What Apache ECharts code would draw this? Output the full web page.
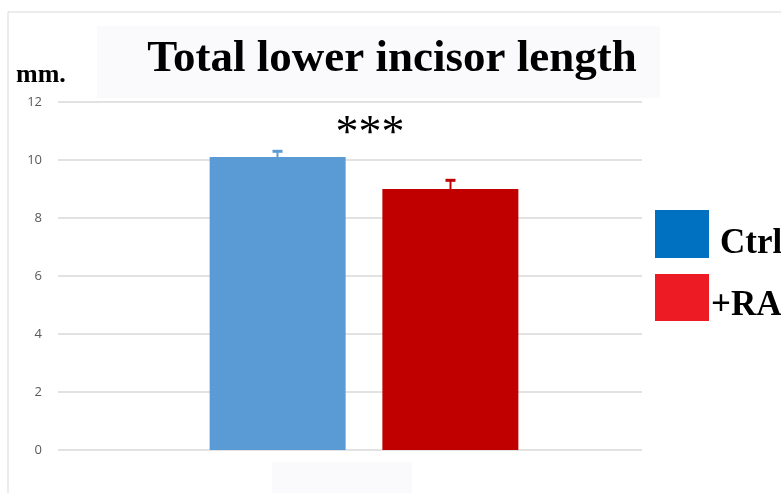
<!DOCTYPE html>
<html><head><meta charset="utf-8">
<script src="https://cdn.jsdelivr.net/npm/echarts@6/dist/echarts.min.js"></script>
<style>html,body{margin:0;padding:0;background:#fff}#c{width:781px;height:493px}</style>
</head><body><div id="c"></div>
<script>
const categories = [''];
const seriesNames = ['Ctrl', '+RA'];
const values = [10.1, 9.0];
const errors = [0.2, 0.3];
const yTicks = [0, 2, 4, 6, 8, 10, 12];
const barColors = ['#5B9BD5', '#C00000'];
const legendColors = ['#0070C0', '#ED1C24'];

const chart = echarts.init(document.getElementById('c'));
const serif = '"Liberation Serif", "Times New Roman", serif';

const barSeries = seriesNames.map((n, i) => ({
  name: n, type: 'bar', xAxisIndex: 1, yAxisIndex: 1,
  data: [values[i]], barWidth: 136, barGap: '27%',
  itemStyle: { color: barColors[i] }, silent: true
}));

const errSeries = seriesNames.map((n, i) => ({
  type: 'custom', xAxisIndex: 1, yAxisIndex: 1, silent: true, z: 5,
  data: [[0, values[i], errors[i]]],
  renderItem: function (params, api) {
    const base = api.coord([api.value(0), api.value(1)]);
    const top = api.coord([api.value(0), api.value(1) + api.value(2)]);
    const bw = 136, gap = 37;
    const offset = (i === 0 ? -1 : 1) * (bw + gap) / 2;
    const x = base[0] + offset;
    return { type: 'group', children: [
      { type: 'line', shape: { x1: x, y1: base[1], x2: x, y2: top[1] }, style: { stroke: barColors[i], lineWidth: 2 } },
      { type: 'line', shape: { x1: x - 5, y1: top[1], x2: x + 5, y2: top[1] }, style: { stroke: barColors[i], lineWidth: 3 } }
    ]};
  }
}));

// icon: square in the upper part of a taller box so the label sits lower
const legendLayout = [
  { top: 210, sq: 48, h: 67, pad: [0, 0, 0, 6] },
  { top: 274, sq: 47, h: 63, pad: [0, 0, 0, -3] }
];

chart.setOption({
  animation: false,
  backgroundColor: '#ffffff',
  graphic: [
    { type: 'rect', z: -10, shape: { x: 8, y: 12, width: 800, height: 500 }, style: { fill: '#fff', stroke: '#d9d9d9', lineWidth: 1 } },
    { type: 'rect', z: -5, shape: { x: 97, y: 26, width: 563, height: 72 }, style: { fill: '#fafafc' } },
    { type: 'rect', z: -5, shape: { x: 272, y: 462, width: 140, height: 40 }, style: { fill: '#fafafc' } },
    { type: 'text', x: 392, y: 37, style: { text: 'Total lower incisor length', font: 'bold 45px ' + serif, fill: '#000', textAlign: 'center', textVerticalAlign: 'top' } },
    { type: 'text', x: 16, y: 62, style: { text: 'mm.', font: 'bold 26px ' + serif, fill: '#000', textAlign: 'left', textVerticalAlign: 'top' } },
    { type: 'text', x: 370, y: 112, style: { text: '***', font: '46px ' + serif, fill: '#000', textAlign: 'center', textVerticalAlign: 'top' } }
  ],
  legend: seriesNames.map((n, i) => {
    const L = legendLayout[i];
    return {
      orient: 'vertical', left: 655, top: L.top, padding: 0,
      itemWidth: 54, itemHeight: L.h, selectedMode: false,
      icon: 'path://M0,0L54,0L54,' + L.sq + 'L0,' + L.sq + 'ZM0,' + L.h + 'L0.01,' + L.h + 'Z',
      data: [{ name: n, itemStyle: { color: legendColors[i] } }],
      textStyle: { fontFamily: serif, fontWeight: 'bold', fontSize: 35, color: '#000', padding: L.pad }
    };
  }),
  grid: [
    { left: 58, right: 139, top: 102, bottom: 43 },
    { left: 72, right: 125, top: 102, bottom: 43 }
  ],
  xAxis: [
    { type: 'category', gridIndex: 0, data: categories, axisLine: { show: false }, axisTick: { show: false }, axisLabel: { show: false } },
    { type: 'category', gridIndex: 1, data: categories, axisLine: { show: false }, axisTick: { show: false }, axisLabel: { show: false } }
  ],
  yAxis: [
    { type: 'value', gridIndex: 0, min: yTicks[0], max: yTicks[yTicks.length - 1], interval: yTicks[1] - yTicks[0],
      axisLine: { show: false }, axisTick: { show: false },
      axisLabel: { margin: 16, color: '#595959', fontSize: 13, fontFamily: '"Open Sans", sans-serif' },
      splitLine: { lineStyle: { color: '#d9d9d9', width: 1.5 } } },
    { type: 'value', gridIndex: 1, min: yTicks[0], max: yTicks[yTicks.length - 1], interval: yTicks[1] - yTicks[0],
      show: false, splitLine: { show: false } }
  ],
  series: [...barSeries, ...errSeries]
});
</script></body></html>
